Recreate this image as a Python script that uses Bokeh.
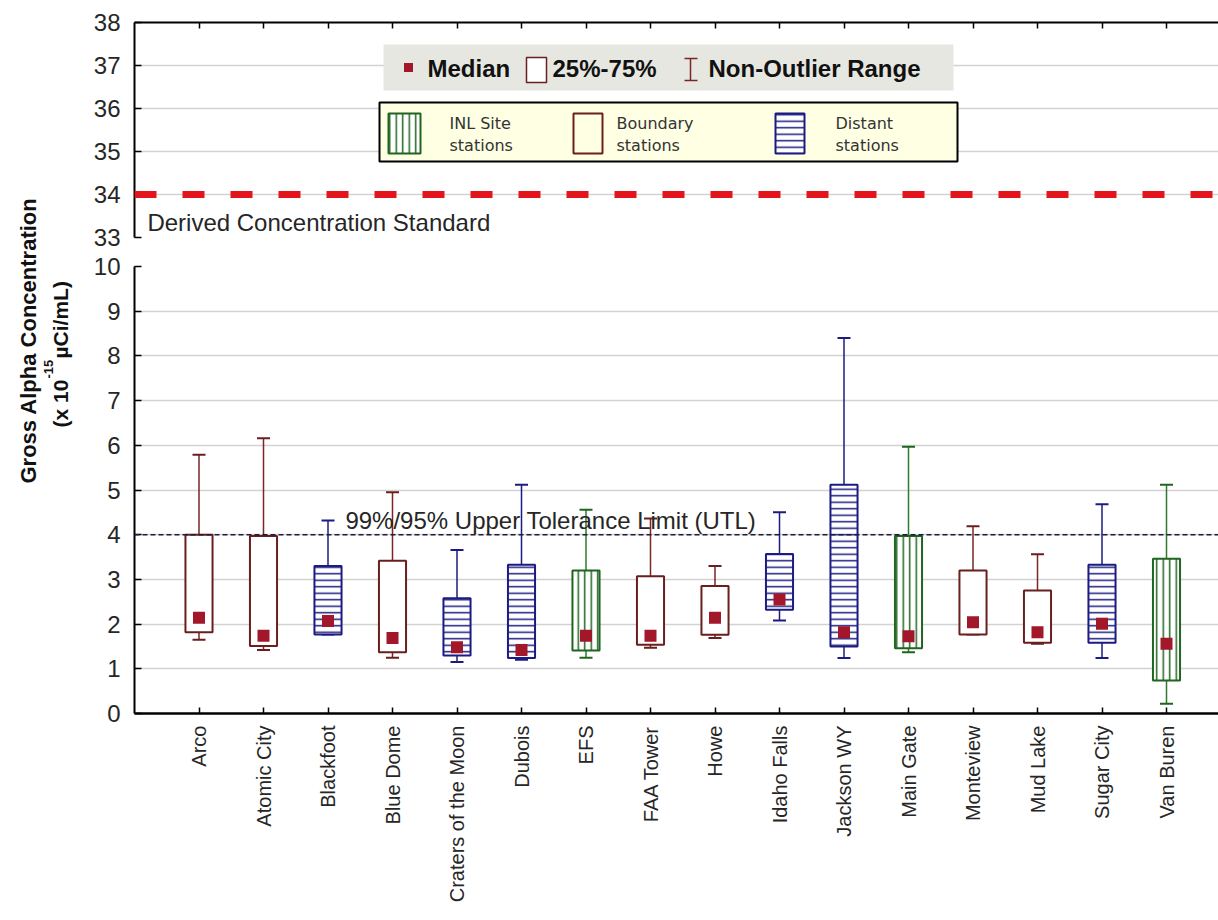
import math
from bokeh.plotting import figure
from bokeh.models import (ColumnDataSource, CDSView, GroupFilter, Range1d, FixedTicker,
                          Span, Label)
from bokeh.layouts import row, column
from bokeh.embed import file_html
from bokeh.resources import INLINE

# ---------------- data ----------------
stations = ["Arco", "Atomic City", "Blackfoot", "Blue Dome", "Craters of the Moon",
            "Dubois", "EFS", "FAA Tower", "Howe", "Idaho Falls", "Jackson WY",
            "Main Gate", "Monteview", "Mud Lake", "Sugar City", "Van Buren"]
groups = ["Boundary", "Boundary", "Distant", "Boundary", "Distant",
          "Distant", "INL", "Boundary", "Boundary", "Distant", "Distant",
          "INL", "Boundary", "Boundary", "Distant", "INL"]
medians = [2.14, 1.74, 2.07, 1.69, 1.48, 1.42, 1.74, 1.74, 2.14, 2.55, 1.82,
           1.73, 2.04, 1.82, 2.01, 1.56]
q25 = [1.82, 1.51, 1.77, 1.37, 1.30, 1.24, 1.41, 1.54, 1.76, 2.32, 1.50,
       1.46, 1.77, 1.58, 1.58, 0.74]
q75 = [4.00, 3.97, 3.30, 3.42, 2.58, 3.33, 3.20, 3.07, 2.85, 3.57, 5.12,
       3.97, 3.20, 2.75, 3.33, 3.46]
whisker_low = [1.65, 1.42, 1.77, 1.25, 1.15, 1.20, 1.25, 1.47, 1.69, 2.08, 1.24,
               1.37, 1.77, 1.56, 1.24, 0.22]
whisker_high = [5.79, 6.16, 4.32, 4.95, 3.66, 5.12, 4.56, 4.36, 3.30, 4.50, 8.40,
                5.97, 4.19, 3.56, 4.68, 5.12]
low_ticks = [0, 1, 2, 3, 4, 5, 6, 7, 8, 9, 10]
high_ticks = [33, 34, 35, 36, 37, 38]
dcs_level = 34
utl_level = 4
dcs_text = "Derived Concentration Standard"
utl_text = "99%/95% Upper Tolerance Limit (UTL)"

# ---------------- styles ----------------
STYLE = {
    "INL": dict(line="#1f641f", whisk="#2f7a2f", hatch="vertical_line", fill="white"),
    "Boundary": dict(line="#6a1e1e", whisk="#7a2626", hatch=None, fill="white"),
    "Distant": dict(line="#1b1b82", whisk="#1b1b82", hatch="horizontal_line", fill="white"),
}
MED = "#a3172b"
FONT = "Liberation Sans"
TXT = "#262626"
GRID = "#d2d2d2"

positions = list(range(1, len(stations) + 1))
src = ColumnDataSource(dict(x=positions, name=stations, group=groups, med=medians,
                            q1=q25, q3=q75, wlo=whisker_low, whi=whisker_high))

LAB_W = 80
FIG_W = 1138
LEFT = 54
X_END = (LAB_W + FIG_W - (LAB_W + LEFT)) / 64.5


def style_axis(ax):
    ax.axis_line_color = "black"
    ax.axis_line_width = 2
    ax.major_tick_line_color = "black"
    ax.major_tick_line_width = 1.5
    ax.minor_tick_line_color = None
    ax.major_label_text_font = FONT
    ax.major_label_text_color = TXT


# ---------------- top panel (33-38) ----------------
top = figure(width=FIG_W, height=251, x_range=Range1d(0, X_END), y_range=Range1d(33, 38),
             title=None, toolbar_location=None, output_backend="svg",
             x_axis_location="above", min_border_left=LEFT, min_border_right=0,
             min_border_top=22, min_border_bottom=14)
top.outline_line_color = None
top.background_fill_color = "white"
top.border_fill_color = "white"
top.xgrid.visible = False
top.ygrid.ticker = FixedTicker(ticks=[t for t in high_ticks if 33 < t < 38])
top.ygrid.grid_line_color = GRID
top.ygrid.grid_line_width = 1.5
top.yaxis.ticker = FixedTicker(ticks=high_ticks)
top.xaxis.ticker = FixedTicker(ticks=positions)
for ax in (top.xaxis[0], top.yaxis[0]):
    style_axis(ax)
top.yaxis.major_tick_in = 7
top.yaxis.major_tick_out = 0
top.yaxis.major_label_standoff = 14
top.yaxis.major_label_text_font_size = "24px"
top.xaxis.major_tick_in = 6
top.xaxis.major_tick_out = 0
top.xaxis.major_label_overrides = {p: "" for p in positions}
top.xaxis.major_label_text_font_size = "8px"
top.xaxis.major_label_standoff = 0

top.add_layout(Span(location=dcs_level, dimension="width", line_color="#e3141c",
                    line_width=7, line_dash="22 26"))
top.add_layout(Label(x=0.2, y=33.03, text=dcs_text, text_font=FONT,
                     text_font_size="24px", text_color=TXT, text_baseline="bottom"))


# helpers converting reference pixel positions of the legend boxes to top-panel data space
def X(px):
    return (px - (LAB_W + LEFT)) / 64.5


def Y(py):
    return 38 - (py - 22) / 43.0


# legend 1 (grey)
top.quad(left=[X(383)], right=[X(953)], top=[Y(44)], bottom=[Y(90)],
         fill_color="#e7e7e2", line_color=None)
top.scatter(x=[X(408)], y=[Y(67)], marker="square", size=9, fill_color=MED, line_color=None)
top.add_layout(Label(x=X(427), y=Y(68), text="Median", text_font=FONT, text_font_style="bold",
                     text_font_size="24px", text_color="#111111", text_baseline="middle"))
top.quad(left=[X(526)], right=[X(546)], top=[Y(57)], bottom=[Y(82)],
         fill_color="white", line_color="#6a1e1e", line_width=1.5)
top.add_layout(Label(x=X(552), y=Y(68), text="25%-75%", text_font=FONT, text_font_style="bold",
                     text_font_size="24px", text_color="#111111", text_baseline="middle"))
top.segment(x0=[X(690)], y0=[Y(58)], x1=[X(690)], y1=[Y(80)], line_color="#7a2626", line_width=1.5)
top.segment(x0=[X(684), X(684)], y0=[Y(58), Y(80)], x1=[X(697), X(697)], y1=[Y(58), Y(80)],
            line_color="#7a2626", line_width=1.5)
top.add_layout(Label(x=X(708), y=Y(68), text="Non-Outlier Range", text_font=FONT,
                     text_font_style="bold", text_font_size="24px", text_color="#111111",
                     text_baseline="middle"))

# legend 2 (yellow)
top.quad(left=[X(379)], right=[X(957)], top=[Y(102)], bottom=[Y(161)],
         fill_color="#ffffe4", line_color="black", line_width=2)
leg2 = [("INL", 388, 420, 449, "INL Site"),
        ("Boundary", 573, 602, 616, "Boundary"),
        ("Distant", 775, 804, 835, "Distant")]
for g, l, r, tx, t1 in leg2:
    st = STYLE[g]
    kw = {}
    if st["hatch"]:
        kw = dict(hatch_pattern=st["hatch"], hatch_scale=6.5, hatch_weight=1.5,
                  hatch_color=st["line"])
    top.quad(left=[X(l)], right=[X(r)], top=[Y(113)], bottom=[Y(153)],
             fill_color="white" if g != "Boundary" else "#ffffe4",
             line_color=st["line"], line_width=2, **kw)
    top.add_layout(Label(x=X(tx), y=Y(123), text=t1, text_font="DejaVu Sans",
                         text_font_size="16px", text_color="#333333", text_baseline="middle"))
    top.add_layout(Label(x=X(tx), y=Y(145), text="stations", text_font="DejaVu Sans",
                         text_font_size="16px", text_color="#333333", text_baseline="middle"))

# ---------------- bottom panel (0-10) ----------------
bot = figure(width=FIG_W, height=667, x_range=top.x_range, y_range=Range1d(0, 10),
             title=None, toolbar_location=None, output_backend="svg",
             min_border_left=LEFT, min_border_right=0, min_border_top=15, min_border_bottom=205)
bot.outline_line_color = None
bot.background_fill_color = "white"
bot.border_fill_color = "white"
bot.xgrid.visible = False
bot.ygrid.ticker = FixedTicker(ticks=[t for t in low_ticks if t > 0])
bot.ygrid.grid_line_color = GRID
bot.ygrid.grid_line_width = 1.5
bot.yaxis.ticker = FixedTicker(ticks=low_ticks)
bot.xaxis.ticker = FixedTicker(ticks=positions)
bot.xaxis.major_label_overrides = {p: n for p, n in zip(positions, stations)}
for ax in (bot.xaxis[0], bot.yaxis[0]):
    style_axis(ax)
bot.xaxis.axis_line_width = 2.5
bot.yaxis.major_tick_in = 7
bot.yaxis.major_tick_out = 0
bot.yaxis.major_label_standoff = 14
bot.yaxis.major_label_text_font_size = "24px"
bot.xaxis.major_tick_in = 6
bot.xaxis.major_tick_out = 0
bot.xaxis.major_label_standoff = 12
bot.xaxis.major_label_orientation = math.pi / 2
bot.xaxis.major_label_text_font_size = "20px"

bot.add_layout(Span(location=utl_level, dimension="width", line_color="#1c1c3c",
                    line_width=1.5, line_dash="5 3"))
bot.add_layout(Label(x=3.27, y=4.02, text=utl_text, text_font=FONT, text_font_size="24px",
                     text_color=TXT, text_baseline="bottom"))

for g, st in STYLE.items():
    view = CDSView(filter=GroupFilter(column_name="group", group=g))
    bot.segment(x0="x", y0="q3", x1="x", y1="whi", source=src, view=view,
                line_color=st["whisk"], line_width=1.5)
    bot.segment(x0="x", y0="wlo", x1="x", y1="q1", source=src, view=view,
                line_color=st["whisk"], line_width=1.5)
    bot.scatter(x="x", y="whi", source=src, view=view, marker="dash", size=13,
                line_color=st["line"], line_width=2)
    bot.scatter(x="x", y="wlo", source=src, view=view, marker="dash", size=13,
                line_color=st["line"], line_width=2)
    kw = {}
    if st["hatch"]:
        kw = dict(hatch_pattern=st["hatch"], hatch_scale=6.5, hatch_weight=1.5,
                  hatch_color=st["line"])
    bot.vbar(x="x", width=0.42, bottom="q1", top="q3", source=src, view=view,
             fill_color=st["fill"], line_color=st["line"], line_width=2, **kw)

bot.scatter(x="x", y="med", source=src, marker="square", size=12,
            fill_color=MED, line_color=None)

# ---------------- y-axis title (spans both panels) ----------------
TOTAL_H = 251 + 667
lab = figure(width=LAB_W, height=TOTAL_H, x_range=Range1d(0, LAB_W), y_range=Range1d(TOTAL_H, 0),
             title=None, toolbar_location=None, output_backend="svg",
             min_border=0)
lab.axis.visible = False
lab.grid.visible = False
lab.outline_line_color = None
lab.add_layout(Label(x=27.5, y=340, angle=math.pi / 2, text="Gross Alpha Concentration",
                     text_font=FONT, text_font_style="bold", text_font_size="22px",
                     text_color="#111111", text_align="center", text_baseline="middle"))
lab.add_layout(Label(x=60, y=427, angle=math.pi / 2, text="(x 10",
                     text_font=FONT, text_font_style="bold", text_font_size="21px",
                     text_color="#111111", text_align="left", text_baseline="middle"))
lab.add_layout(Label(x=48, y=378, angle=math.pi / 2, text="-15",
                     text_font=FONT, text_font_style="bold", text_font_size="13px",
                     text_color="#111111", text_align="left", text_baseline="middle"))
lab.add_layout(Label(x=60, y=358, angle=math.pi / 2, text="\u00b5Ci/mL)",
                     text_font=FONT, text_font_style="bold", text_font_size="21px",
                     text_color="#111111", text_align="left", text_baseline="middle"))

layout = row(lab, column(top, bot))
open("out.html", "w").write(file_html(layout, INLINE))
